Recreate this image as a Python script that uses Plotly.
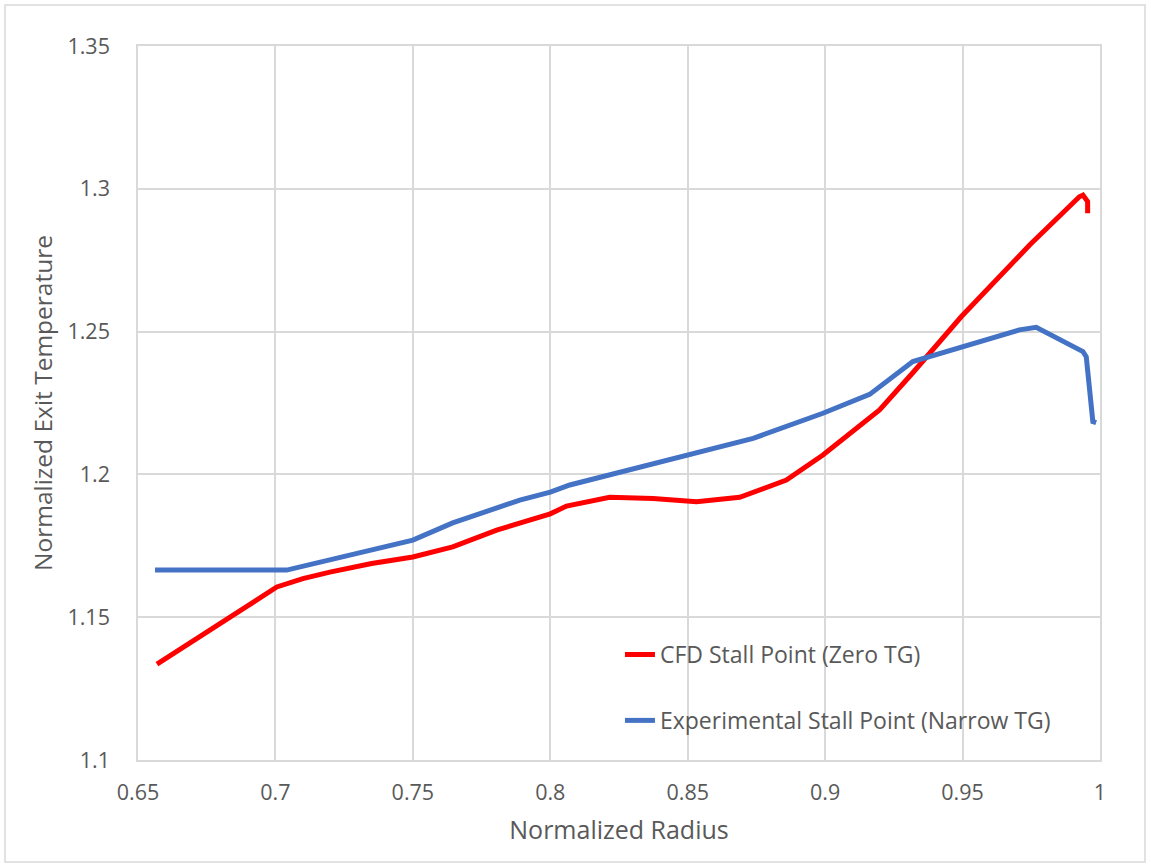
import plotly.graph_objects as go

# CFD stall point, zero tip gap
cfd_radius = [0.6569, 0.6700, 0.6835, 0.7005, 0.7100, 0.7198, 0.7350, 0.7500, 0.7645,
              0.7805, 0.7891, 0.8000, 0.8059, 0.8216, 0.8374, 0.8532, 0.8689, 0.8859,
              0.8992, 0.9102, 0.9198, 0.9319, 0.9495, 0.9744, 0.9925, 0.9938, 0.9955,
              0.9955]
cfd_temp = [1.1336, 1.1415, 1.1500, 1.1606, 1.1635, 1.1658, 1.1688, 1.1711, 1.1746,
            1.1805, 1.1829, 1.1862, 1.1889, 1.1920, 1.1916, 1.1904, 1.1920, 1.1980,
            1.2068, 1.2155, 1.2226, 1.2356, 1.2552, 1.2803, 1.2972, 1.2978, 1.2955,
            1.2914]

# Experimental stall point, narrow tip gap
exp_radius = [0.6562, 0.7041, 0.7500, 0.7645, 0.7889, 0.8000, 0.8071, 0.8495, 0.8738,
              0.8992, 0.9162, 0.9319, 0.9707, 0.9768, 0.9938, 0.9950, 0.9974, 0.9986]
exp_temp = [1.1665, 1.1665, 1.1770, 1.1830, 1.1910, 1.1938, 1.1963, 1.2068, 1.2126,
            1.2214, 1.2280, 1.2395, 1.2506, 1.2515, 1.2430, 1.2412, 1.2185, 1.2181]

x_ticks = [0.65, 0.7, 0.75, 0.8, 0.85, 0.9, 0.95, 1.0]
x_tick_text = ["0.65", "0.7", "0.75", "0.8", "0.85", "0.9", "0.95", "1"]
y_ticks = [1.1, 1.15, 1.2, 1.25, 1.3, 1.35]
y_tick_text = ["1.1", "1.15", "1.2", "1.25", "1.3", "1.35"]

FONT = "Open Sans"
TEXT_GREY = "#595959"
GRID = "#d9d9d9"

fig = go.Figure()
fig.add_trace(go.Scatter(
    x=cfd_radius, y=cfd_temp, mode="lines", name="CFD Stall Point (Zero TG)",
    line=dict(color="#ff0000", width=5), legendgroup="cfd",
))
fig.add_trace(go.Scatter(
    x=exp_radius, y=exp_temp, mode="lines", name="Experimental Stall Point (Narrow TG)",
    line=dict(color="#4472c4", width=5), legendgroup="exp",
))

fig.update_layout(
    width=1151, height=866,
    margin=dict(l=138, r=51, t=46, b=106),
    paper_bgcolor="white", plot_bgcolor="white",
    font=dict(family=FONT, color=TEXT_GREY, size=21),
    legend=dict(
        x=0.501, y=0.1015, xanchor="left", yanchor="middle",
        bgcolor="rgba(0,0,0,0)", font=dict(size=23, color=TEXT_GREY),
        traceorder="grouped", tracegroupgap=33,
    ),
    shapes=[dict(
        type="rect", xref="paper", yref="paper",
        x0=-133 / 962, x1=1 + 45 / 962, y0=-102 / 714, y1=1 + 41 / 714,
        line=dict(color="#d9d9d9", width=1.5), layer="below",
    )],
)

fig.update_xaxes(
    range=[0.65, 1.0], tickvals=x_ticks, ticktext=x_tick_text,
    tickfont=dict(size=21.5),
    showgrid=True, gridcolor=GRID, gridwidth=1.5,
    showline=True, linecolor=GRID, linewidth=1.5, mirror=True,
    ticks="inside", ticklen=5, tickcolor=GRID,
    zeroline=False, ticklabelstandoff=12,
    title=dict(text="Normalized Radius", font=dict(size=25, color=TEXT_GREY), standoff=17),
)
fig.update_yaxes(
    range=[1.1, 1.35], tickvals=y_ticks, ticktext=y_tick_text,
    tickfont=dict(size=21.5),
    showgrid=True, gridcolor=GRID, gridwidth=1.5,
    showline=True, linecolor=GRID, linewidth=1.5, mirror=True,
    zeroline=False, ticklabelstandoff=22,
    title=dict(text="Normalized Exit Temperature", font=dict(size=24.5, color=TEXT_GREY), standoff=8),
)

fig.write_html("out.html")
